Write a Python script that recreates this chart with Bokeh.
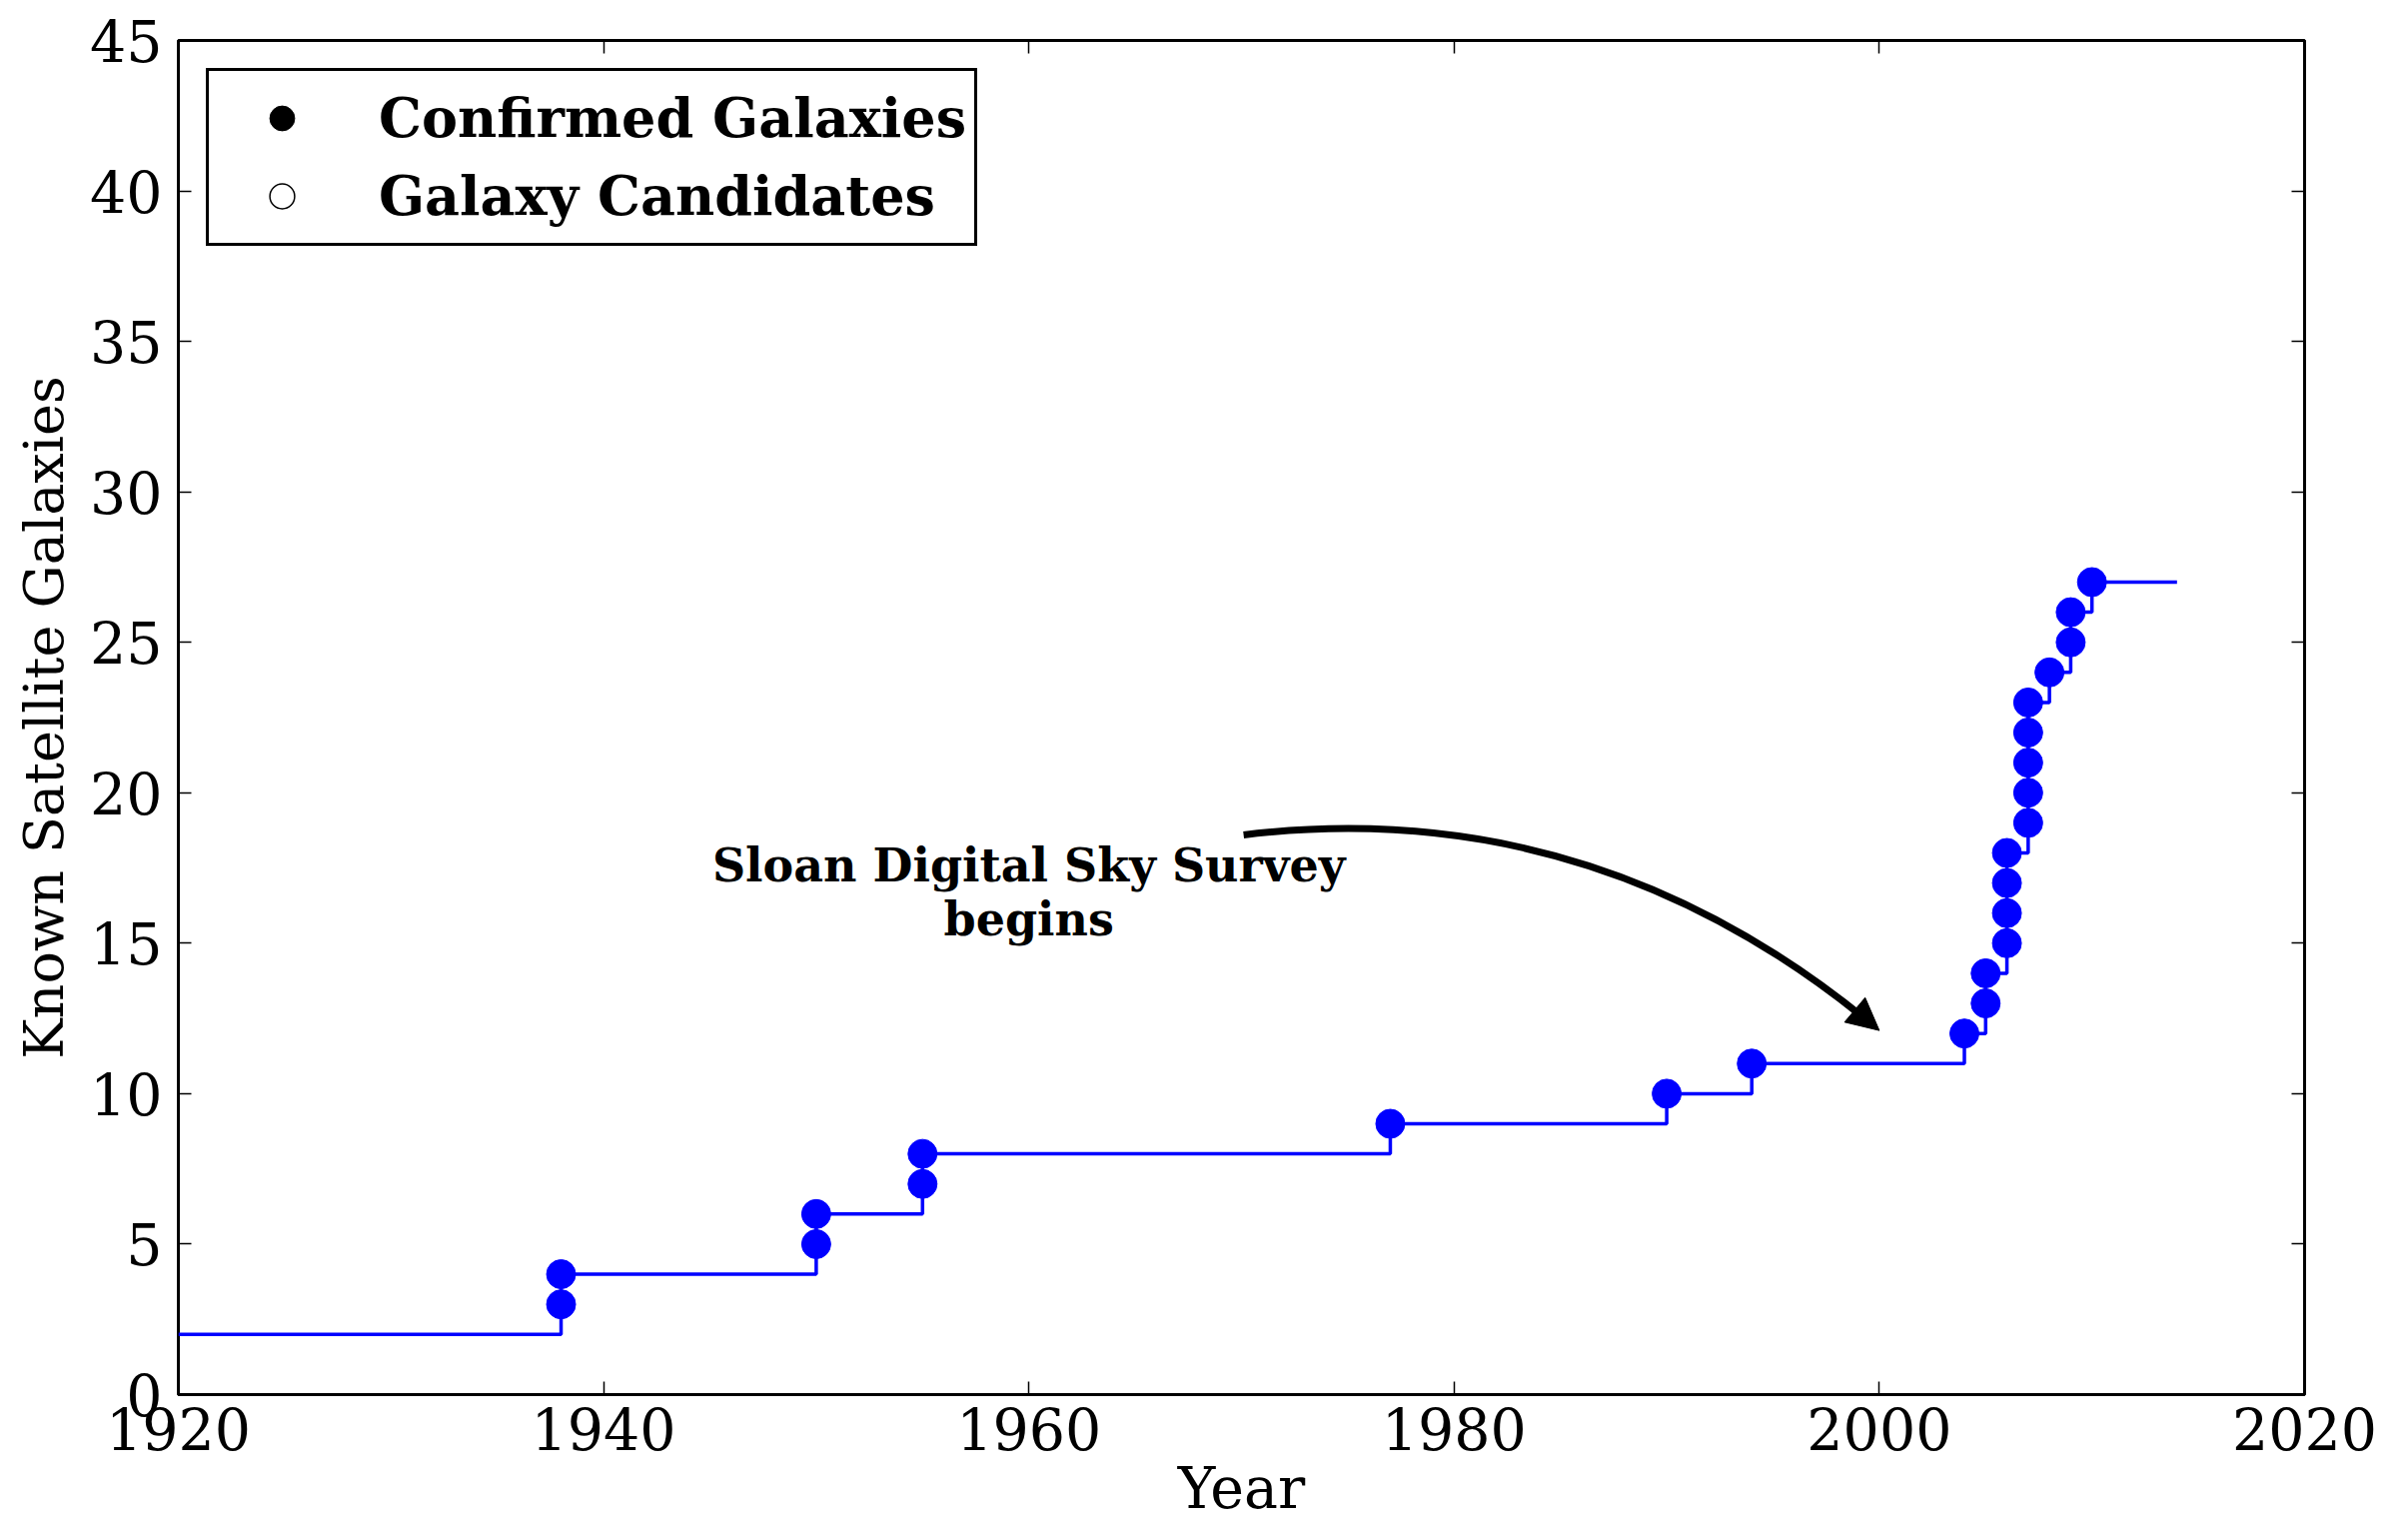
import numpy as np
from bokeh.plotting import figure
from bokeh.models import (LinearAxis, FixedTicker, Range1d, Legend, LegendItem,
                          Arrow, NormalHead)
from bokeh.core.properties import value
from bokeh.embed import file_html
from bokeh.resources import INLINE

# ---------------- data ----------------
step_years = [1920, 1938, 1950, 1955, 1977, 1990, 1994, 2004, 2005, 2006, 2007, 2008, 2009, 2010, 2014]
step_counts = [2, 4, 6, 8, 9, 10, 11, 12, 14, 18, 23, 24, 26, 27, 27]

conf_years = [1938, 1938, 1950, 1950, 1955, 1955, 1977, 1990, 1994, 2004,
              2005, 2005, 2006, 2006, 2006, 2006, 2007, 2007, 2007, 2007, 2007,
              2008, 2009, 2009, 2010]
conf_counts = [3, 4, 5, 6, 7, 8, 9, 10, 11, 12,
               13, 14, 15, 16, 17, 18, 19, 20, 21, 22, 23,
               24, 25, 26, 27]

x_ticks = [1920, 1940, 1960, 1980, 2000, 2020]
y_ticks = [0, 5, 10, 15, 20, 25, 30, 35, 40, 45]

legend_labels = ["Confirmed Galaxies", "Galaxy Candidates"]
x_label = "Year"
y_label = "Known Satellite Galaxies"

annotation_lines = ["Sloan Digital Sky Survey", "begins"]
annotation_x = 1960
annotation_y = [17.6, 15.8]

arrow_start = (1970.1, 18.6)
arrow_ctrl = (1986.7, 20.0)
arrow_tip = (2000.0, 12.1)

# ---------------- figure ----------------
SERIF = "DejaVu Serif"

p = figure(width=2410, height=1541,
           x_range=Range1d(1920, 2020), y_range=Range1d(0, 45),
           output_backend="svg", toolbar_location=None,
           min_border_left=178, min_border_right=104,
           min_border_top=40, min_border_bottom=146)
p.xgrid.visible = False
p.ygrid.visible = False
p.outline_line_color = "black"
p.outline_line_width = 3
p.outline_line_alpha = 1
p.background_fill_color = "white"
p.border_fill_color = "white"

def style_axis(ax, labels=True):
    ax.axis_line_color = None
    ax.major_tick_in = 13
    ax.major_tick_out = 0
    ax.major_tick_line_width = 1.5
    ax.major_tick_line_color = "black"
    ax.minor_tick_line_color = None
    ax.major_label_text_font = SERIF
    if labels:
        ax.major_label_text_color = "black"
        ax.major_label_text_font_size = "57px"
    else:
        # tick marks only (mirrored ticks on top/right)
        ax.major_label_text_color = None
        ax.major_label_text_font_size = "1px"
        ax.major_label_standoff = 0

xb = p.xaxis[0]
yl = p.yaxis[0]
xb.ticker = FixedTicker(ticks=x_ticks)
yl.ticker = FixedTicker(ticks=y_ticks)
style_axis(xb)
style_axis(yl)
xb.major_label_standoff = 12
yl.major_label_standoff = 16

xb.axis_label = x_label
yl.axis_label = y_label
for ax in (xb, yl):
    ax.axis_label_text_font = SERIF
    ax.axis_label_text_font_style = "normal"
    ax.axis_label_text_color = "black"
xb.axis_label_text_font_size = "57px"
yl.axis_label_text_font_size = "54px"
xb.axis_label_standoff = 2
yl.axis_label_standoff = 11

xt = LinearAxis(ticker=FixedTicker(ticks=x_ticks))
yr = LinearAxis(ticker=FixedTicker(ticks=y_ticks))
style_axis(xt, labels=False)
style_axis(yr, labels=False)
p.add_layout(xt, "above")
p.add_layout(yr, "right")

# ---------------- marks ----------------
p.step(step_years, step_counts, mode="after", line_color="#0000ff", line_width=3.5)
p.scatter(conf_years, conf_counts, marker="circle", size=29,
          fill_color="#0000ff", line_color="#0000ff")

# annotation curve (quadratic), stopped just short of the tip
t = 0.98
q0 = (arrow_start[0] + t * (arrow_ctrl[0] - arrow_start[0]),
      arrow_start[1] + t * (arrow_ctrl[1] - arrow_start[1]))
q1 = (arrow_ctrl[0] + t * (arrow_tip[0] - arrow_ctrl[0]),
      arrow_ctrl[1] + t * (arrow_tip[1] - arrow_ctrl[1]))
bend = (q0[0] + t * (q1[0] - q0[0]), q0[1] + t * (q1[1] - q0[1]))
p.quadratic(x0=[arrow_start[0]], y0=[arrow_start[1]], x1=[bend[0]], y1=[bend[1]],
            cx=[q0[0]], cy=[q0[1]], line_color="black", line_width=7)
k = 0.06
p.add_layout(Arrow(end=NormalHead(size=32, fill_color="black", line_color="black", line_width=1),
                   x_start=arrow_tip[0] - k * (arrow_tip[0] - arrow_ctrl[0]),
                   y_start=arrow_tip[1] - k * (arrow_tip[1] - arrow_ctrl[1]),
                   x_end=arrow_tip[0], y_end=arrow_tip[1],
                   line_color="black", line_width=7))

p.text(x=[annotation_x] * len(annotation_lines), y=annotation_y, text=annotation_lines,
       text_font=value(SERIF), text_font_style="bold", text_font_size="46px",
       text_align="center", text_baseline="middle", text_color="black")

# ---------------- legend (proxy markers) ----------------
r_conf = p.scatter(x=[np.nan], y=[np.nan], marker="circle", size=10,
                   fill_color="black", line_color="black")
r_cand = p.scatter(x=[np.nan], y=[np.nan], marker="circle", size=10,
                   fill_color="white", line_color="black", line_width=1.5)
legend = Legend(items=[LegendItem(label=legend_labels[0], renderers=[r_conf]),
                       LegendItem(label=legend_labels[1], renderers=[r_cand])],
                location="top_left", margin=28, padding=8, spacing=0,
                glyph_width=130, glyph_height=62, label_height=78, label_standoff=32,
                label_text_font=SERIF, label_text_font_style="bold",
                label_text_font_size="54px", label_text_color="black",
                border_line_color="black", border_line_width=3, border_line_alpha=1,
                background_fill_color="white", background_fill_alpha=1)
p.add_layout(legend)

open("out.html", "w").write(file_html(p, INLINE))
